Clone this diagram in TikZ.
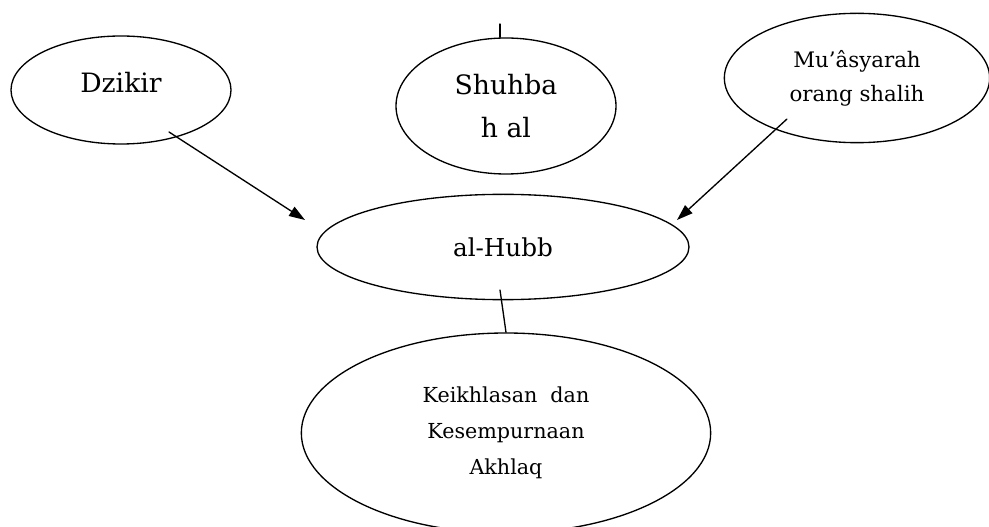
\documentclass[tikz,border=0pt]{standalone}
\usepackage{fontspec}
\setmainfont{DejaVu Serif}
\usetikzlibrary{shapes.geometric,arrows.meta}
\begin{document}
\begin{tikzpicture}[x=0.75pt, y=-0.75pt, >={Triangle[length=12pt,width=8pt]}, line join=round, line cap=round, line width=1pt,
		bubble/.style={draw, ellipse, inner sep=0pt, align=center}]
	\useasboundingbox (0,0) rectangle (989,527);
	% the five bubbles
	\node[bubble, minimum width=165pt, minimum height=81pt, text depth=12pt, font=\fontsize{20}{24}\selectfont] (dzikir) at (121,90) {Dzikir};
	\node[bubble, minimum width=165pt, minimum height=102pt, font=\fontsize{20}{32}\selectfont] (shuhbah) at (506,106) {Shuhba\\h al};
	\node[bubble, minimum width=199pt, minimum height=97pt, font=\fontsize{16}{25.5}\selectfont] (muasyarah) at (857,78) {Mu’âsyarah\\orang shalih};
	\node[bubble, minimum width=279pt, minimum height=79pt, font=\fontsize{18.5}{22}\selectfont] (hubb) at (503,247) {al-Hubb};
	\node[bubble, minimum width=307pt, minimum height=150pt, font=\fontsize{15.5}{27}\selectfont] (akhlaq) at (506,433) {Keikhlasan~~dan\\Kesempurnaan\\Akhlaq};
	% free ends of the connectors
	\foreach \x/\y/\z in {500/24/s0, 500/290/h0, 169/132/d0, 305/220/d1, 787/119/m0, 677/220/m1}{
		\path (\x,\y) coordinate (\z);
	}
	\draw (s0) -- (s0 |- shuhbah.north);
	\draw (h0) -- (akhlaq.north);
	\foreach \a/\b in {d0/d1, m0/m1}{
		\draw[->] (\a) -- (\b);
	}
\end{tikzpicture}
\end{document}
